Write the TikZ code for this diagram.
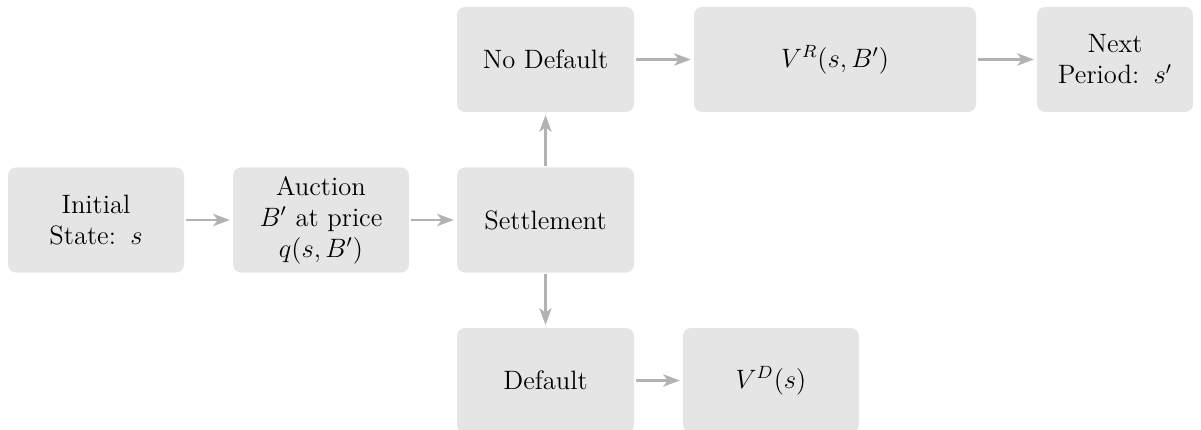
\documentclass[tikz,border=0pt]{standalone}
\usetikzlibrary{arrows.meta}
\definecolor{boxfill}{gray}{0.90}
\definecolor{arrowgray}{gray}{0.70}
\tikzset{
  px/.style={x=0.4513pt,y=-0.4513pt},
  box/.style={fill=boxfill, rounded corners=3.6pt, inner sep=0pt, align=center,
    font=\large, minimum height=105*0.4513pt, minimum width=#1*0.4513pt},
  flow/.style={draw=arrowgray, line width=1.35pt,
    -{Stealth[length=7.5pt,width=5.5pt,inset=2pt]}, shorten <=0.6pt, shorten >=1.2pt}
}
\begin{document}
\begin{tikzpicture}[px]
\clip (0,0) rectangle (1201,430);
\useasboundingbox (0,0) rectangle (1201,430);
\node[box=176] (init) at (96,220) {Initial\\State: \hspace{1.2pt}$s$};
\node[box=176] (auct) at (321,220) {Auction\\$B'$ at price\\$q(s,B')$};
\node[box=177] (sett) at (545.5,220) {Settlement};
\node[box=177] (nodef) at (545.5,59.5) {No Default};
\node[box=282] (vr) at (835,59.5) {$V^R(s,B')$};
\node[box=156] (next) at (1115,59.5) {Next\\Period: \hspace{1.2pt}$s'$};
\node[box=177] (def) at (545.5,380.5) {Default};
\node[box=176] (vd) at (771,380.5) {$V^D(s)$};
\draw[flow] (init) -- (auct);
\draw[flow] (auct) -- (sett);
\draw[flow] (sett) -- (nodef);
\draw[flow] (sett) -- (def);
\draw[flow] (nodef) -- (vr);
\draw[flow] (vr) -- (next);
\draw[flow] (def) -- (vd);
\end{tikzpicture}
\end{document}
